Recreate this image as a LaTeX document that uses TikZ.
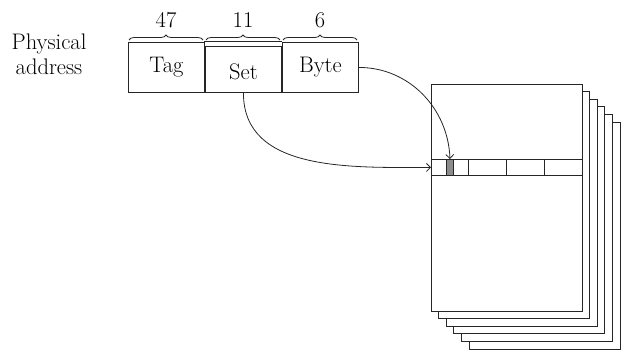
\documentclass[tikz,border=0pt]{standalone}
\usetikzlibrary{decorations.pathreplacing,arrows.meta}
\begin{document}
\begin{tikzpicture}[x=1pt,y=-1pt,
  line width=0.9pt, draw=black!85,
  lbl/.style={font=\fontsize{22.5}{25}\selectfont, inner sep=0pt},
  fld/.style={draw, minimum width=76pt, minimum height=50.6pt, inner sep=0pt, anchor=north west, font=\fontsize{22.5}{25}\selectfont},
  page/.style={draw, fill=white},
  brc/.style={decorate, decoration={brace, amplitude=5pt}, line width=0.8pt},
  arr/.style={-{Straight Barb[length=4pt,width=8pt]}, line width=0.8pt}]
\useasboundingbox (0,0) rectangle (622,351);
% stacked pages
\foreach \i in {5,4,3,2,1} {
  \draw[page] (431+7.6*\i, 84+7.6*\i) rectangle (582+7.6*\i, 311+7.6*\i);
}
\node[page, minimum width=151pt, minimum height=227pt, inner sep=0pt, anchor=north west] (front) at (431,84) {};
% row
\node[draw, minimum width=151pt, minimum height=16pt, inner sep=0pt, anchor=north west] (row) at (431,159) {};
\node[draw, fill=black!45, minimum width=7pt, minimum height=16pt, inner sep=0pt, anchor=north west] (cell) at (446,159) {};
\draw[line width=1.4pt] (468.7,159) -- (468.7,175);
\draw[line width=1.4pt] (506.7,159) -- (506.7,175);
\draw[line width=1.4pt] (544.3,159) -- (544.3,175);
% address
\node[lbl, align=center] (phys) at (49,54) {Physical\\address};
\node[fld] (tag) at (128,41.7) {Tag};
\node[fld] (byte) at (282,41.7) {Byte};
\node[fld, minimum height=46.6pt, text depth=0pt] (set) at (205,45.7) {\raisebox{-4pt}{Set}};
\draw (204,41.7) -- (282,41.7);
\draw (204,41.7) -- (204,92.3);
\draw (282,41.7) -- (282,92.3);
% braces
\draw[brc] (129,40) -- (203,40);
\draw[brc] (206,40) -- (280,40);
\draw[brc] (283,40) -- (357,40);
\node[lbl] (n47) at (166,20) {47};
\node[lbl] (n11) at (243,20) {11};
\node[lbl] (n6) at (320,20) {6};
% connectors
\draw[arr] (byte.east) to[out=0,in=92] (cell.north);
\draw[arr] (set.south) to[out=-90,in=180] (row.west);
\end{tikzpicture}
\end{document}
